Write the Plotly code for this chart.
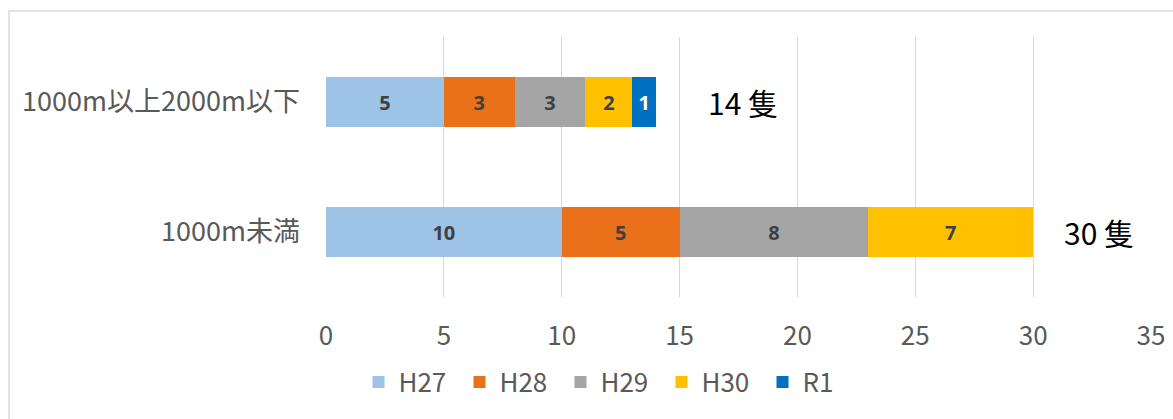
import plotly.graph_objects as go

categories = ["1000m未満", "1000m以上2000m以下"]
series_names = ["H27", "H28", "H29", "H30", "R1"]
h27 = [10, 5]
h28 = [5, 3]
h29 = [8, 3]
h30 = [7, 2]
r1 = [0, 1]
series_values = [h27, h28, h29, h30, r1]
colors = ["#9DC3E6", "#E8711A", "#A5A5A5", "#FFC000", "#0070C0"]
text_colors = ["#404040", "#404040", "#404040", "#404040", "#FFFFFF"]
x_ticks = [0, 5, 10, 15, 20, 25, 30, 35]

W, H = 1173, 419
L, R, T, B = 326, 22, 37, 122
pw, ph = W - L - R, H - T - B

def px_x(p):
    return (p - L) / pw

def px_y(p):
    return (H - B - p) / ph

fig = go.Figure()
for name, vals, c, tc in zip(series_names, series_values, colors, text_colors):
    fig.add_trace(go.Bar(
        y=categories, x=vals, name=name, orientation="h",
        marker=dict(color=c, line=dict(width=0)),
        text=[str(v) if v else "" for v in vals],
        textposition="inside", insidetextanchor="middle",
        textangle=0,
        textfont=dict(family="Open Sans", size=20, color=tc, weight="bold"),
        constraintext="none",
        hoverinfo="skip",
    ))

totals = [sum(s[i] for s in series_values) for i in range(len(categories))]
label_x = [32.8, 17.7]
for cat, tot, lx in zip(categories, totals, label_x):
    fig.add_annotation(x=lx, y=cat, xref="x", yref="y", text=f"{tot} 隻",
                       showarrow=False, xanchor="center", yanchor="middle",
                       font=dict(family="Noto Sans CJK JP", size=30, color="#000000"))

fig.add_shape(type="rect", xref="paper", yref="paper",
              x0=px_x(9), x1=px_x(1180), y0=px_y(425), y1=px_y(11),
              line=dict(color="#D9D9D9", width=1.5), fillcolor="rgba(0,0,0,0)", layer="below")

fig.update_layout(
    width=W, height=H,
    margin=dict(l=L, r=R, t=T, b=B, pad=0, autoexpand=False),
    barmode="stack", bargap=0.61,
    plot_bgcolor="white", paper_bgcolor="white",
    showlegend=True,
    legend=dict(orientation="h", x=px_x(611), xanchor="center", y=px_y(382), yanchor="middle",
                font=dict(family="Noto Sans CJK JP", size=26, color="#595959"),
                traceorder="normal", entrywidth=56, entrywidthmode="pixels"),
    xaxis=dict(range=[0, 35], tickvals=x_ticks, showgrid=True, gridcolor="#D9D9D9", gridwidth=1.3,
               zeroline=False, showline=False, ticks="", ticklabelstandoff=21,
               tickfont=dict(family="Noto Sans CJK JP", size=26, color="#595959")),
    yaxis=dict(range=[-0.5, 1.5], showgrid=False, zeroline=False, showline=False, ticks="",
               ticklabelstandoff=25,
               tickfont=dict(family="Noto Sans CJK JP", size=27, color="#595959")),
)

fig.write_html("out.html", config={"displayModeBar": False},
               post_script="document.body.style.margin='0';")
